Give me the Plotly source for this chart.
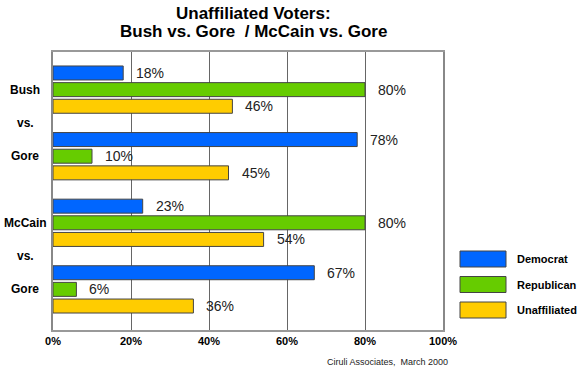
import plotly.graph_objects as go

# ---- data ----
groups = ["Bush", "Gore", "McCain", "Gore"]
separator_label = "vs."
series_names = ["Democrat", "Republican", "Unaffiliated"]
democrat = [18, 78, 23, 67]
republican = [80, 10, 80, 6]
unaffiliated = [46, 45, 54, 36]
x_ticks = [0, 20, 40, 60, 80, 100]
x_tick_labels = ["0%", "20%", "40%", "60%", "80%", "100%"]
title_lines = ["Unaffiliated Voters:", "Bush vs. Gore  / McCain vs. Gore"]
footer = "Ciruli Associates,  March 2000"

colors = ["#0066FF", "#66CC00", "#FFCC00"]
FONT = "Liberation Sans, Arial, sans-serif"

# plot-area geometry in pixels
L, R, T, B = 53, 443, 52, 330
PW, PH = R - L, B - T

def px_x(px):
    return (px - L) / PW

def px_y(py):
    return (B - py) / PH

# group centre positions on a numeric y axis (4 slots per group, 3 bars each)
centers = [4 * i + 1 for i in range(len(groups))]
vs_pos = [centers[0] + 2, centers[2] + 2]
tickvals = [centers[0], vs_pos[0], centers[1], centers[2], vs_pos[1], centers[3]]
ticktext = [groups[0], separator_label, groups[1], groups[2], separator_label, groups[3]]

fig = go.Figure()
all_series = [democrat, republican, unaffiliated]
for k, (name, vals, col) in enumerate(zip(series_names, all_series, colors)):
    fig.add_trace(go.Bar(
        x=vals, y=centers, orientation="h", name=name,
        marker=dict(color=col, line=dict(color="#444444", width=1)),
        hoverinfo="x+name", showlegend=False,
    ))
    for v, c in zip(vals, centers):
        fig.add_annotation(
            x=v, y=c + (k - 1), xref="x", yref="y",
            text=f"{v}%", showarrow=False, xanchor="left", yanchor="middle",
            xshift=11, font=dict(family=FONT, size=14, color="#222222"),
        )

# category labels on the left (centred, as in the original)
for tv, tt in zip(tickvals, ticktext):
    fig.add_annotation(
        x=px_x(25), y=tv, xref="paper", yref="y",
        text=f"<b>{tt}</b>", showarrow=False, xanchor="center", yanchor="middle",
        font=dict(family=FONT, size=12, color="black"),
    )

# legend (large swatches as in the original)
for k, (name, col) in enumerate(zip(series_names, colors)):
    cy = 259 + k * 25.5
    fig.add_shape(
        type="rect", xref="paper", yref="paper",
        x0=px_x(460), x1=px_x(506), y0=px_y(cy + 8), y1=px_y(cy - 8),
        fillcolor=col, line=dict(color="#444444", width=1),
    )
    fig.add_annotation(
        x=px_x(515), y=px_y(cy), xref="paper", yref="paper",
        text=f"<b>{name}</b>", showarrow=False, xanchor="left", yanchor="middle",
        font=dict(family=FONT, size=11, color="black"),
    )

# title
for line, cy in zip(title_lines, [14, 31]):
    fig.add_annotation(
        x=px_x(254), y=px_y(cy), xref="paper", yref="paper",
        text=f"<b>{line}</b>", showarrow=False, xanchor="center", yanchor="middle",
        font=dict(family=FONT, size=17, color="black"),
    )
# footer
fig.add_annotation(
    x=px_x(325), y=px_y(362), xref="paper", yref="paper",
    text=footer, showarrow=False, xanchor="left", yanchor="middle",
    font=dict(family=FONT, size=9, color="#222222"),
)

fig.update_layout(
    width=585, height=369,
    margin=dict(l=L, r=585 - R, t=T, b=369 - B, autoexpand=False),
    paper_bgcolor="white", plot_bgcolor="white",
    barmode="group", bargap=0.25, bargroupgap=0.16,
    showlegend=False,
    xaxis=dict(
        range=[0, 100], tickvals=x_ticks, ticktext=x_tick_labels,
        showgrid=True, gridcolor="#666666", gridwidth=1,
        showline=True, linecolor="#999999", linewidth=2, mirror=True,
        zeroline=False, ticks="", automargin=False,
        tickfont=dict(family=FONT, size=11, color="black", weight="bold"),
    ),
    yaxis=dict(
        range=[15.44, -1.26], tickvals=tickvals,
        showticklabels=False,
        showgrid=False, zeroline=False, automargin=False,
        showline=True, linecolor="#888888", linewidth=2, mirror=True,
        ticks="",
    ),
)

fig.write_html(
    "out.html",
    config={"displayModeBar": False},
    post_script="document.body.style.margin='0px';document.body.style.padding='0px';",
)
